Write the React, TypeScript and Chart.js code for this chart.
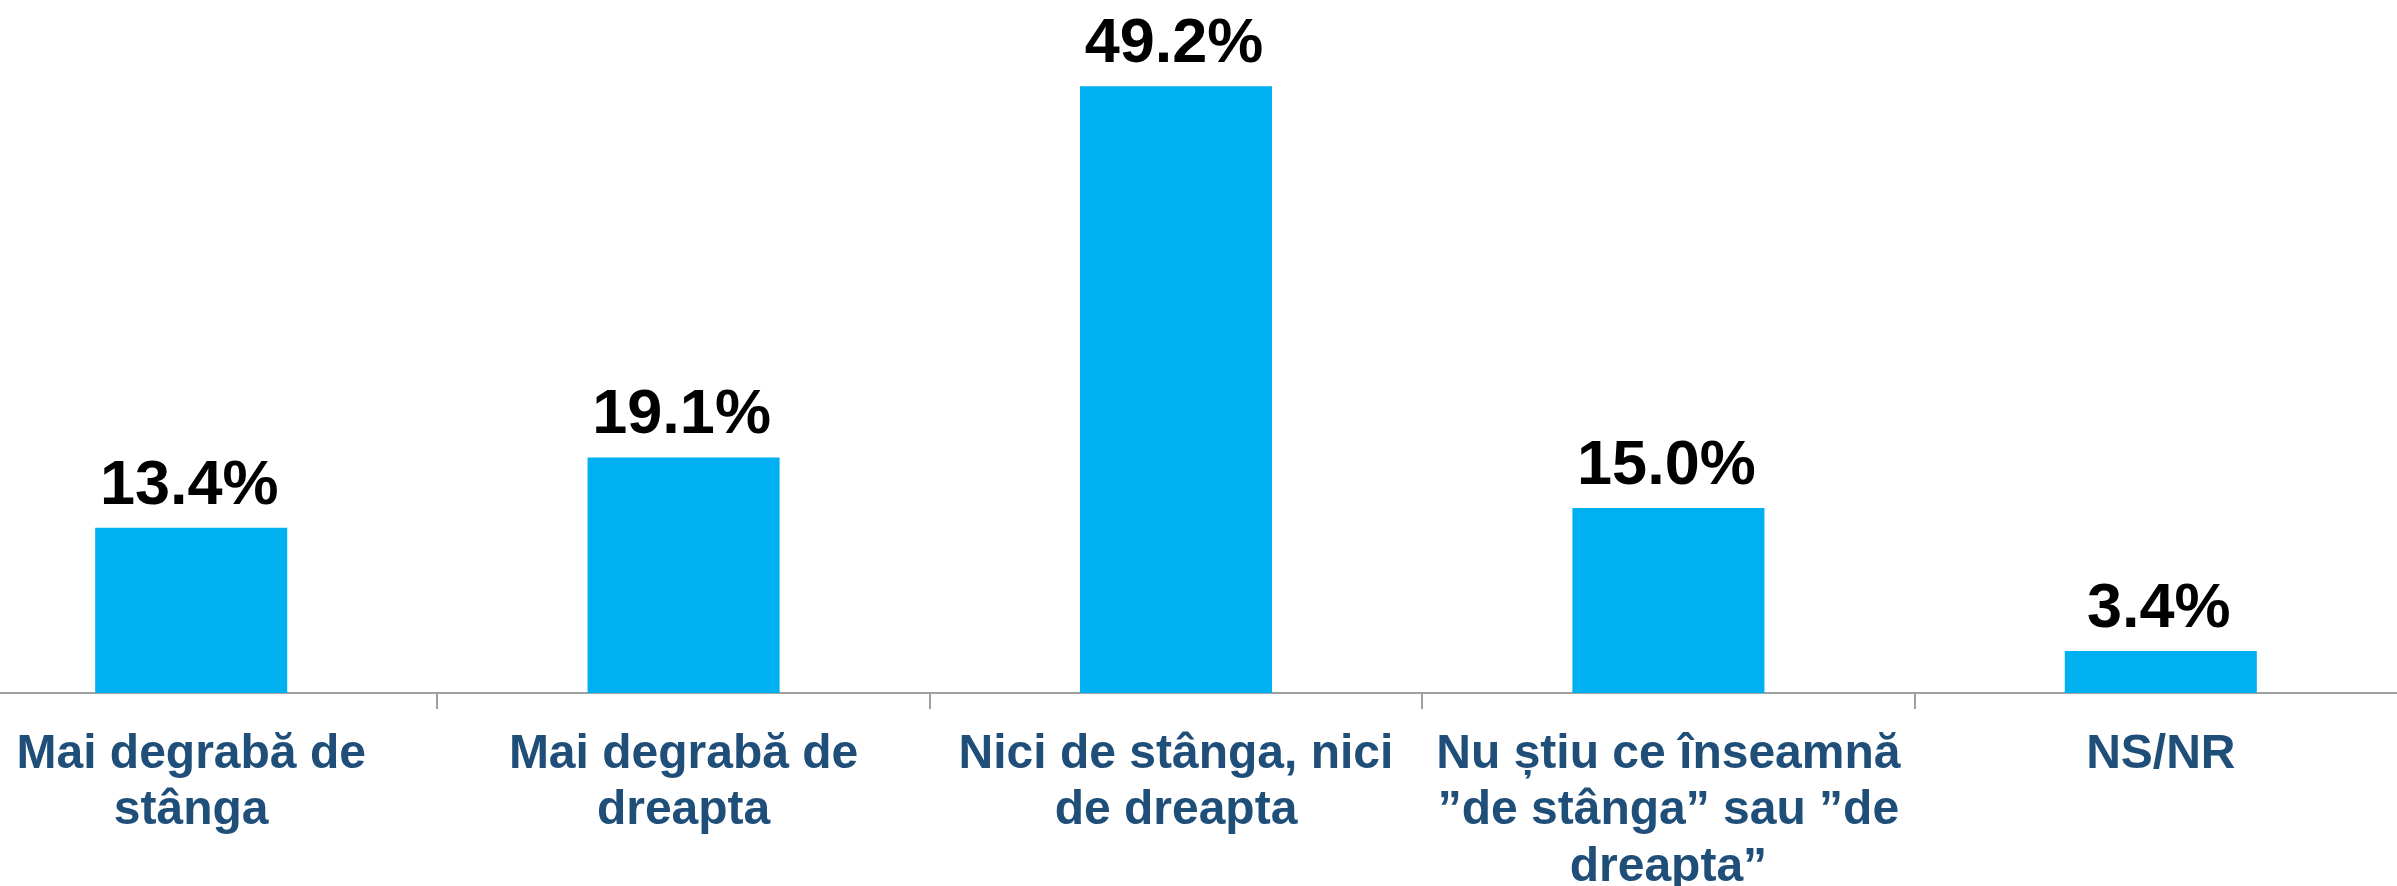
import React, { useEffect, useRef } from "react";
import { Chart, registerables } from "chart.js";

Chart.register(...registerables);

const categories: (string | string[])[] = [
  ["Mai degrabă de", "stânga"],
  ["Mai degrabă de", "dreapta"],
  ["Nici de stânga, nici", "de dreapta"],
  ["Nu știu ce înseamnă", "”de stânga” sau ”de", "dreapta”"],
  "NS/NR",
];
const values: number[] = [13.4, 19.1, 49.2, 15.0, 3.4];

const FONT = '"Liberation Sans", Arial, sans-serif';
const BAR_COLOR = "#00B0F0";
const LABEL_COLOR = "#1F4E79";
const AXIS_COLOR = "#A0A0A0";

const valueLabels = {
  id: "valueLabels",
  afterDatasetsDraw(chart: any) {
    const ctx = chart.ctx;
    const meta = chart.getDatasetMeta(0);
    ctx.save();
    ctx.font = `bold 63px ${FONT}`;
    ctx.fillStyle = "#000000";
    ctx.textAlign = "center";
    ctx.textBaseline = "alphabetic";
    meta.data.forEach((bar: any, i: number) => {
      ctx.fillText(values[i].toFixed(1) + "%", bar.x - 2, bar.y - 24);
    });
    ctx.restore();
  },
};

export default function App() {
  const ref = useRef<HTMLCanvasElement>(null);
  useEffect(() => {
    if (!ref.current) return;
    const chart = new Chart(ref.current, {
      type: "bar",
      data: {
        labels: categories,
        datasets: [
          {
            data: values,
            backgroundColor: BAR_COLOR,
            borderWidth: 0,
            barPercentage: 0.39,
            categoryPercentage: 1,
          },
        ],
      },
      options: {
        responsive: false,
        animation: false,
        devicePixelRatio: 1,
        layout: { padding: 0 },
        plugins: {
          legend: { display: false },
          tooltip: { enabled: false },
        },
        scales: {
          x: {
            offset: true,
            border: { display: true, color: AXIS_COLOR, width: 2 },
            grid: {
              offset: true,
              drawOnChartArea: false,
              drawTicks: true,
              tickLength: 16,
              color: AXIS_COLOR,
              lineWidth: 2,
            },
            ticks: {
              color: LABEL_COLOR,
              padding: 18,
              maxRotation: 0,
              minRotation: 0,
              autoSkip: false,
              font: { family: FONT, size: 48, weight: "bold", lineHeight: 1.17 },
            },
            afterFit(scale: any) {
              scale.height = 193;
            },
          },
          y: {
            display: false,
            min: 0,
            max: 56.2,
          },
        },
      },
      plugins: [valueLabels],
    } as any);
    return () => chart.destroy();
  }, []);

  return (
    <div
      style={{
        position: "absolute",
        left: 0,
        top: 0,
        width: 2397,
        height: 886,
        overflow: "hidden",
        background: "#ffffff",
      }}
    >
      <canvas
        ref={ref}
        width={2462}
        height={886}
        style={{ position: "absolute", left: -55, top: 0, width: 2462, height: 886 }}
      />
    </div>
  );
}
